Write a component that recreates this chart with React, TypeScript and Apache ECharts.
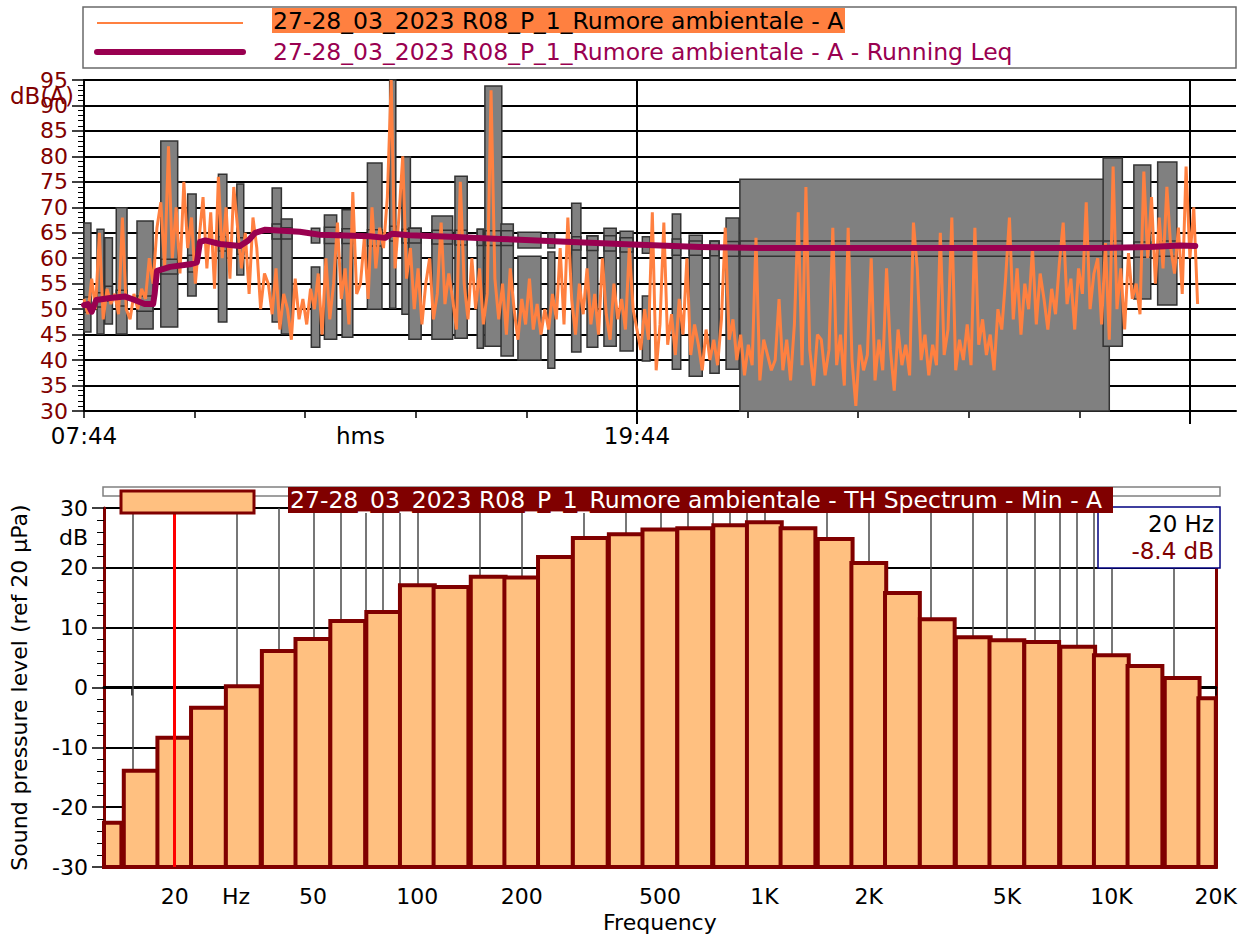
import { useEffect, useRef } from 'react';
import * as echarts from 'echarts';

const FONT = 'DejaVu Sans';

// ---------- Top chart: time history (x = minutes after 07:44) ----------
const laStepMinutes = 5;
const laLevels = [
  52, 49, 56, 50, 65, 48, 54, 51, 53, 49, 68, 50,
  48, 53, 50, 54, 52, 60, 55, 66, 71, 58, 82, 60,
  70, 57, 75, 62, 68, 55, 64, 72, 58, 69, 54, 76,
  60, 70, 56, 74, 66, 58, 65, 53, 68, 62, 50, 57,
  55, 49, 58, 46, 53, 50, 44, 56, 48, 52, 47, 54,
  50, 57, 45, 60, 48, 55, 67, 52, 58, 47, 73, 53,
  55, 64, 52, 70, 58, 66, 62, 72, 95, 58, 68, 80,
  56, 62, 50, 58, 47, 55, 60, 48, 53, 67, 51, 57,
  52, 46, 75, 55, 48, 60, 50, 58, 47, 53, 93, 56,
  48, 55, 45, 58, 50, 44, 52, 47, 56, 46, 51, 45,
  50, 46, 53, 48, 62, 47, 68, 52, 45, 55, 49, 58,
  47, 53, 45, 60, 49, 44, 55, 48, 52, 46, 62, 50,
  46, 42, 50, 44, 69, 38, 47, 67, 43, 49, 41, 52,
  45, 60, 41, 47, 43, 38, 46, 40, 44, 39, 48, 66,
  44, 48, 40, 45, 37, 43, 39, 64, 36, 44, 41, 38,
  40, 52, 38, 44, 36, 47, 69, 39, 74, 42, 35, 45,
  44, 37, 42, 66, 39, 45, 35, 66, 40, 31, 43, 38,
  41, 60, 36, 44, 38, 58, 42, 34, 46, 39, 43, 37,
  67, 58, 40, 45, 37, 43, 39, 65, 41, 46, 68, 38,
  44, 40, 47, 39, 66, 43, 48, 41, 45, 38, 50, 46,
  56, 68, 48, 58, 45, 55, 50, 62, 47, 57, 52, 46,
  54, 49, 59, 67, 51, 56, 46, 58, 53, 71, 50, 57,
  60, 47, 63, 44, 78, 50, 58, 46, 61, 52, 55, 49,
  77, 60, 72, 55, 68, 58, 74, 62, 57, 66, 53, 78,
  60, 70, 51,
];

const leqMinutes = [0, 5, 10, 16, 34, 53, 66, 79, 90, 92, 95, 112, 138, 147, 151, 158, 177, 203, 214, 223, 236, 281, 307, 372, 392, 401, 424, 477, 542, 620, 698, 802, 880, 1323, 1388, 1427, 1447];
const leqLevels = [50.8, 51, 49.5, 51.8, 52.2, 52.5, 51.8, 51, 51, 53, 57.5, 58.3, 58.8, 59.2, 63.2, 63.5, 62.8, 62.4, 63.5, 65, 65.6, 65.2, 64.6, 64.3, 64, 64.8, 64.5, 64.2, 63.8, 63.3, 62.8, 62.2, 62, 62, 62.2, 62.5, 62.4];

const eventStart = [0, 17, 27, 42, 69, 100, 135, 175, 199, 245, 257, 296, 296, 313, 336, 369, 398, 414, 423, 453, 483, 512, 522, 543, 565, 565, 604, 604, 635, 655, 677, 698, 727, 727, 766, 788, 815, 836, 854, 1327, 1367, 1398];
const eventEnd = [9, 26, 37, 56, 90, 122, 146, 186, 208, 257, 271, 307, 307, 329, 350, 388, 406, 425, 439, 480, 499, 520, 544, 559, 595, 595, 613, 613, 647, 669, 693, 715, 737, 737, 777, 805, 827, 853, 1335, 1352, 1389, 1423];
const eventMin = [45.5, 45.1, 47.1, 45.1, 46.1, 46.5, 52.6, 47.5, 56.7, 47.5, 45.1, 42.5, 63.0, 44.1, 44.5, 50.0, 50.2, 49.0, 44.1, 44.1, 44.3, 42.3, 42.7, 40.8, 62.0, 40.0, 62.0, 38.4, 41.6, 42.5, 42.7, 41.8, 61.0, 39.8, 38.2, 36.8, 37.4, 38.2, 30, 42.7, 52.0, 50.8];
const eventMax = [66.9, 65.7, 64.0, 69.9, 67.3, 83.0, 72.6, 76.5, 74.6, 73.8, 67.7, 58.3, 65.9, 68.5, 69.5, 78.7, 95, 79.9, 65.9, 68.3, 76.1, 65.7, 93.8, 66.7, 65.1, 60.4, 64.9, 61.2, 70.8, 64.4, 65.9, 65.3, 64.2, 52.6, 68.7, 64.5, 63.4, 67.9, 75.5, 79.7, 78.3, 78.9];
const eventLeqLow = [49.4, 50.4, 51.6, 50.6, 49.6, 56.9, 57.3, 61.4, 60.8, 63.8, 63.8, 0, 0, 62.9, 62.9, 62.4, 63.4, 63.0, 63.0, 62.8, 62.6, 62.5, 62.5, 62.5, 0, 0, 0, 0, 61.6, 61.5, 61.4, 61.2, 0, 0, 60.6, 60.6, 60.5, 60.4, 60.4, 60.4, 60.2, 60.4];
const eventLeqHigh = [52.4, 53.2, 54.5, 53.7, 52.6, 59.8, 60.6, 64.2, 64.0, 66.7, 66.0, 0, 0, 66.1, 65.8, 65.6, 66.3, 65.7, 65.9, 65.5, 65.5, 65.7, 65.4, 65.4, 0, 0, 0, 0, 64.2, 64.4, 64.4, 64.0, 0, 0, 63.8, 63.4, 63.4, 63.3, 63.4, 63.4, 63.2, 63.4];

const timeTickMinutes = [0, 144, 288, 432, 576, 720, 864, 1008, 1152, 1296, 1440];
const timeMajorMinutes = [720, 1440];
const timeLabelMinutes = [0, 360, 720];
const timeLabelTexts = ['07:44', 'hms', '19:44'];

// ---------- Bottom chart: 1/3 octave spectrum ----------
const bandCenters = [12.5, 16, 20, 25, 31.5, 40, 50, 63, 80, 100, 125, 160, 200, 250, 315, 400, 500, 630, 800, 1000, 1250, 1600, 2000, 2500, 3150, 4000, 5000, 6300, 8000, 10000, 12500, 16000, 20000];
const bandLevels = [-22.6, -13.9, -8.4, -3.4, 0.2, 6.1, 8.1, 11.1, 12.6, 17.1, 16.8, 18.5, 18.4, 21.8, 25.0, 25.6, 26.4, 26.6, 27.1, 27.6, 26.6, 24.8, 20.8, 15.8, 11.4, 8.4, 7.9, 7.6, 6.8, 5.4, 3.6, 1.6, -1.8];
const freqGridValues = [15, 20, 30, 40, 50, 60, 70, 80, 90, 100, 150, 200, 300, 400, 500, 600, 700, 800, 900, 1000, 1500, 2000, 3000, 4000, 5000, 6000, 7000, 8000, 9000, 10000, 15000];
const freqLabelValues = [20, 30, 50, 100, 200, 500, 1000, 2000, 5000, 10000, 20000];
const freqLabelTexts = ['20', 'Hz', '50', '100', '200', '500', '1K', '2K', '5K', '10K', '20K'];
const levelLabelValues = [-30, -20, -10, 0, 10, 20, 25, 30];
const cursorIndex = 2;

const legendTitleA = '27-28_03_2023 R08_P_1_Rumore ambientale - A';
const legendTitleLeq = '27-28_03_2023 R08_P_1_Rumore ambientale - A - Running Leq';
const spectrumTitle = '27-28_03_2023 R08_P_1_Rumore ambientale - TH Spectrum - Min - A';

const ORANGE = '#FF8040';
const LEQ = '#990050';
const DARKRED = '#800000';
const TITLE_FONT = `23.5px "${FONT}"`;
const CURSOR_FONT = `23px "${FONT}"`;

function buildOption(): any {
  const laData = laLevels.map((v, i) => [i * laStepMinutes, v]);
  const leqData = leqMinutes.map((m, i) => [m, leqLevels[i]]);
  const eventData = eventStart.map((s, i) => [s, eventEnd[i], eventMin[i], eventMax[i], eventLeqLow[i], eventLeqHigh[i]]);
  const bandData = bandCenters.map((f, i) => [Math.log10(f), bandLevels[i]]);
  const halfBand = Math.log10(2) / 6;
  const fmtFreq = (v: number) => {
    for (let i = 0; i < freqLabelValues.length; i++) {
      if (Math.abs(Math.log10(freqLabelValues[i]) - v) < 1e-6) return freqLabelTexts[i];
    }
    return '';
  };
  const txt = (extra: any) => ({ fontFamily: FONT, fontSize: 22, ...extra });

  return {
    animation: false,
    textStyle: { fontFamily: FONT },
    grid: [
      { left: 84, top: 80, width: 1152, height: 331 },
      { left: 103, top: 508, width: 1117, height: 359 },
    ],
    xAxis: [
      {
        type: 'value', gridIndex: 0, min: 0, max: 1500,
        axisLine: { lineStyle: { color: '#000', width: 2 } },
        axisTick: { customValues: timeTickMinutes, length: 7, lineStyle: { color: '#000', width: 1.5 } },
        axisLabel: {
          customValues: timeLabelMinutes, margin: 13, color: '#000', fontSize: 23, fontFamily: FONT,
          formatter: (v: number) => { const k = timeLabelMinutes.indexOf(v); return k >= 0 ? timeLabelTexts[k] : ''; },
        },
        splitLine: { show: false },
      },
      {
        type: 'value', gridIndex: 0, min: 0, max: 1500, position: 'bottom',
        axisLine: { show: false },
        axisTick: { customValues: timeMajorMinutes, length: 13, lineStyle: { color: '#000', width: 2 } },
        axisLabel: { show: false },
        splitLine: { show: false },
      },
      {
        type: 'value', gridIndex: 1, min: Math.log10(12.5), max: Math.log10(20000),
        axisLine: { lineStyle: { color: '#000', width: 3 } },
        axisTick: { customValues: freqGridValues.concat([20000]).map((f) => Math.log10(f)), length: 8, lineStyle: { color: '#000', width: 1.5 } },
        axisLabel: { customValues: freqLabelValues.map((f) => Math.log10(f)), formatter: fmtFreq, margin: 18, color: '#000', fontSize: 22, fontFamily: FONT },
        splitLine: { show: false },
        name: 'Frequency', nameLocation: 'middle', nameGap: 44,
        nameTextStyle: txt({ color: '#000' }),
      },
    ],
    yAxis: [
      {
        type: 'value', gridIndex: 0, min: 30, max: 95, interval: 5,
        axisLine: { show: true, lineStyle: { color: '#000', width: 2 } },
        axisTick: { show: true, length: 12, lineStyle: { color: '#000', width: 1.5 } },
        minorTick: { show: true, splitNumber: 5, length: 6, lineStyle: { color: '#000', width: 1 } },
        axisLabel: { color: DARKRED, fontSize: 22, fontFamily: FONT, margin: 16 },
        splitLine: { show: true, lineStyle: { color: '#000', width: 2 } },
      },
      {
        type: 'value', gridIndex: 0, min: 30, max: 95, position: 'right',
        axisLine: { show: true, lineStyle: { color: '#000', width: 2 } },
        axisTick: { show: false }, axisLabel: { show: false }, splitLine: { show: false },
      },
      {
        type: 'value', gridIndex: 1, min: -30, max: 30, interval: 10,
        axisLine: { show: true, lineStyle: { color: DARKRED, width: 3 } },
        axisTick: { show: true, customValues: [-30, -20, -10, 0, 10, 20, 30], length: 12, lineStyle: { color: '#000', width: 1.5 } },
        minorTick: { show: true, splitNumber: 5, length: 7, lineStyle: { color: '#000', width: 1 } },
        axisLabel: {
          customValues: levelLabelValues, color: '#000', fontSize: 22, fontFamily: FONT, margin: 16,
          formatter: (v: number) => (v === 25 ? 'dB' : String(v)),
        },
        splitLine: { show: true, lineStyle: { color: '#000', width: 2 } },
        name: 'Sound pressure level (ref 20 µPa)', nameLocation: 'middle', nameGap: 74,
        nameTextStyle: txt({ color: '#000' }),
      },
      {
        type: 'value', gridIndex: 1, min: -30, max: 30, position: 'right',
        axisLine: { show: true, lineStyle: { color: DARKRED, width: 3 } },
        axisTick: { show: false }, axisLabel: { show: false }, splitLine: { show: false },
      },
    ],
    series: [
      {
        type: 'custom', name: 'events', xAxisIndex: 0, yAxisIndex: 0, z: 2, silent: true,
        encode: { x: [0, 1], y: [2, 3] },
        data: eventData,
        renderItem: (_params: any, api: any) => {
          const s = api.value(0), e = api.value(1), lo = api.value(2), hi = api.value(3);
          const il = api.value(4), ih = api.value(5);
          const a = api.coord([s, hi]);
          const b = api.coord([e, lo]);
          const children: any[] = [{
            type: 'rect',
            shape: { x: a[0], y: a[1], width: b[0] - a[0], height: b[1] - a[1] },
            style: { fill: '#808080', stroke: '#333333', lineWidth: 1.5 },
          }];
          if (ih > il) {
            const c = api.coord([s, ih]);
            const d = api.coord([e, il]);
            children.push({
              type: 'rect',
              shape: { x: c[0], y: c[1], width: d[0] - c[0], height: d[1] - c[1] },
              style: { fill: 'none', stroke: '#333333', lineWidth: 1.5 },
            });
          }
          return { type: 'group', children };
        },
      },
      {
        type: 'line', name: 'time-grid', xAxisIndex: 0, yAxisIndex: 0, z: 1, silent: true,
        data: [[720, 30]], symbol: 'none', lineStyle: { width: 0 },
        markLine: {
          z: 1, silent: true, symbol: ['none', 'none'], label: { show: false },
          lineStyle: { color: '#000', width: 2, type: 'solid' },
          data: timeMajorMinutes.map((m) => ({ xAxis: m })),
        },
      },
      {
        type: 'line', name: legendTitleA, xAxisIndex: 0, yAxisIndex: 0, z: 4, silent: true,
        data: laData, showSymbol: false, symbol: 'none',
        lineStyle: { color: ORANGE, width: 3 },
      },
      {
        type: 'line', name: legendTitleLeq, xAxisIndex: 0, yAxisIndex: 0, z: 5, silent: true,
        data: leqData, showSymbol: false, symbol: 'none',
        lineStyle: { color: LEQ, width: 6, cap: 'round', join: 'round' },
      },
      {
        type: 'line', name: 'freq-grid', xAxisIndex: 2, yAxisIndex: 2, z: 1, silent: true,
        data: [[Math.log10(20), -30]], symbol: 'none', lineStyle: { width: 0 },
        markLine: {
          z: 1, silent: true, symbol: ['none', 'none'], label: { show: false },
          lineStyle: { color: '#4a4a4a', width: 1.5, type: 'solid' },
          data: freqGridValues.map((f) => ({ xAxis: Math.log10(f) })),
        },
      },
      {
        type: 'custom', name: spectrumTitle, xAxisIndex: 2, yAxisIndex: 2, z: 3, silent: true,
        encode: { x: 0, y: 1 },
        data: bandData,
        renderItem: (params: any, api: any) => {
          const lf = api.value(0), v = api.value(1);
          const p0 = api.coord([lf - halfBand, v]);
          const p1 = api.coord([lf + halfBand, -30]);
          const cs = params.coordSys;
          const x0 = Math.max(p0[0], cs.x);
          const x1 = Math.min(p1[0], cs.x + cs.width);
          return {
            type: 'rect',
            shape: { x: x0, y: p0[1], width: x1 - x0, height: p1[1] - p0[1] },
            style: { fill: '#FFC080', stroke: DARKRED, lineWidth: 4 },
          };
        },
      },
      {
        type: 'line', name: 'cursor', xAxisIndex: 2, yAxisIndex: 2, z: 6, silent: true,
        data: [[Math.log10(bandCenters[cursorIndex]), -30]], symbol: 'none', lineStyle: { width: 0 },
        markLine: {
          z: 6, silent: true, symbol: ['none', 'none'], label: { show: false },
          lineStyle: { color: '#FF0000', width: 3, type: 'solid' },
          data: [{ xAxis: Math.log10(bandCenters[cursorIndex]) }],
        },
      },
    ],
    graphic: [
      // top legend
      { type: 'rect', z: 100, shape: { x: 83, y: 7, width: 1153, height: 61 }, style: { fill: '#fff', stroke: '#6a6a6a', lineWidth: 1.5 } },
      { type: 'line', z: 101, shape: { x1: 97, y1: 23, x2: 243, y2: 23 }, style: { stroke: ORANGE, lineWidth: 2 } },
      { type: 'rect', z: 101, shape: { x: 272, y: 8, width: 573, height: 25 }, style: { fill: ORANGE } },
      { type: 'text', z: 102, x: 273, y: 21, style: { text: legendTitleA, fill: '#000', font: TITLE_FONT, textVerticalAlign: 'middle' } },
      { type: 'line', z: 101, shape: { x1: 97, y1: 52, x2: 243, y2: 52 }, style: { stroke: LEQ, lineWidth: 6, lineCap: 'round' } },
      { type: 'text', z: 102, x: 273, y: 52, style: { text: legendTitleLeq, fill: LEQ, font: TITLE_FONT, textVerticalAlign: 'middle' } },
      { type: 'text', z: 102, x: 10, y: 96, style: { text: 'dB(A)', fill: DARKRED, font: `23px "${FONT}"`, textVerticalAlign: 'middle' } },
      // bottom header
      { type: 'rect', z: 100, shape: { x: 103, y: 487, width: 1117, height: 9 }, style: { fill: '#fff', stroke: '#808080', lineWidth: 1.5 } },
      { type: 'rect', z: 101, shape: { x: 121, y: 491, width: 133, height: 22 }, style: { fill: '#FFC080', stroke: DARKRED, lineWidth: 3 } },
      { type: 'rect', z: 101, shape: { x: 288, y: 487, width: 825, height: 26 }, style: { fill: DARKRED } },
      { type: 'text', z: 102, x: 290, y: 500, style: { text: spectrumTitle, fill: '#fff', font: TITLE_FONT, textVerticalAlign: 'middle' } },
      // cursor readout
      { type: 'rect', z: 100, shape: { x: 1098, y: 507, width: 122, height: 61 }, style: { fill: '#fff', stroke: '#000080', lineWidth: 1.5 } },
      { type: 'text', z: 101, x: 1214, y: 524, style: { text: `${bandCenters[cursorIndex]} Hz`, fill: '#000', font: CURSOR_FONT, textAlign: 'right', textVerticalAlign: 'middle' } },
      { type: 'text', z: 101, x: 1214, y: 551, style: { text: `${bandLevels[cursorIndex].toFixed(1)} dB`, fill: DARKRED, font: CURSOR_FONT, textAlign: 'right', textVerticalAlign: 'middle' } },
    ],
  };
}

export default function App() {
  const ref = useRef<HTMLDivElement>(null);
  useEffect(() => {
    const chart = echarts.init(ref.current!, null, { renderer: 'svg' });
    chart.setOption(buildOption());
    return () => chart.dispose();
  }, []);
  return (
    <div
      ref={ref}
      style={{ position: 'fixed', left: 0, top: 0, width: 1240, height: 938, background: '#fff' }}
    />
  );
}
